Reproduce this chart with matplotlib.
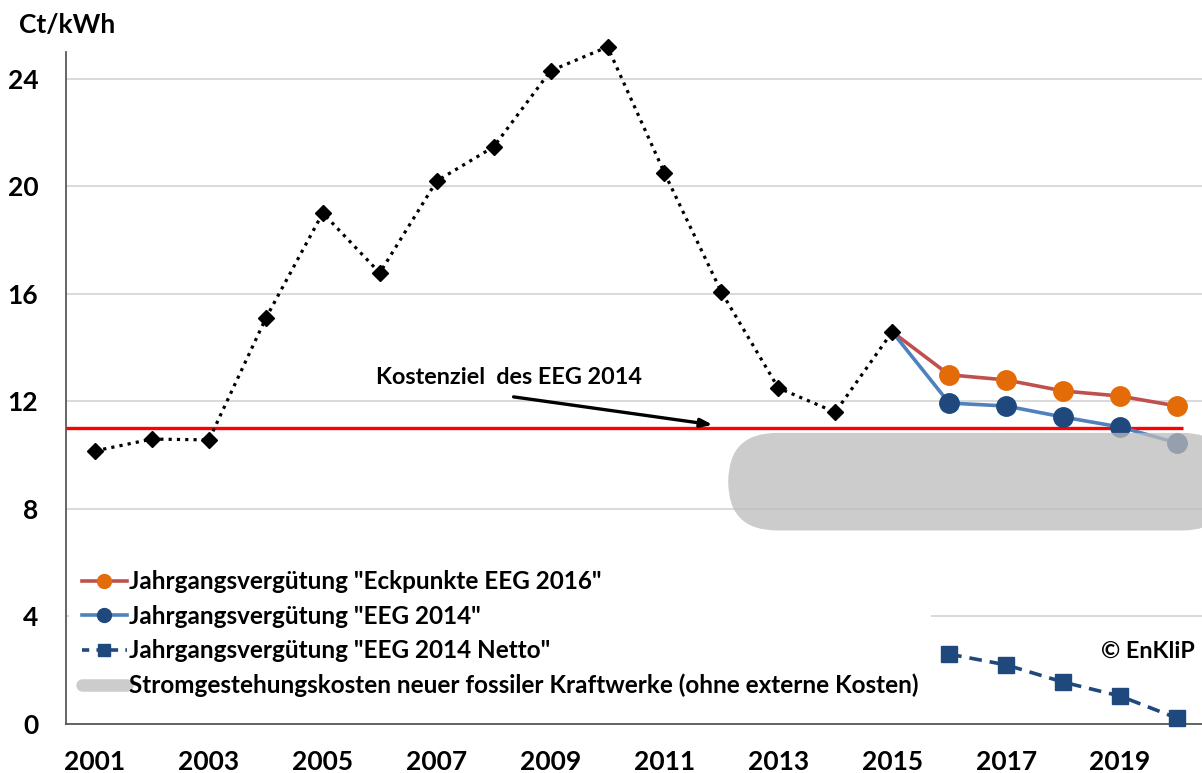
import matplotlib
matplotlib.use('Agg')
import matplotlib.pyplot as plt
from matplotlib.lines import Line2D
from matplotlib.patches import FancyBboxPatch

plt.rcParams['font.family'] = ['Lato', 'DejaVu Sans']

# Jahrgangsverguetung (historic), Ct/kWh
years = [2001, 2002, 2003, 2004, 2005, 2006, 2007, 2008, 2009, 2010,
         2011, 2012, 2013, 2014, 2015]
verguetung = [10.16, 10.6, 10.57, 15.1, 19.01, 16.78, 20.2, 21.47, 24.3, 25.19,
              20.5, 16.07, 12.5, 11.6, 14.59]

# projections, starting from the 2015 value
proj_years = [2015, 2016, 2017, 2018, 2019, 2020]
eckpunkte_2016 = [14.59, 12.99, 12.8, 12.39, 12.2, 11.83]
eeg_2014 = [14.59, 11.94, 11.83, 11.42, 11.05, 10.46]

netto_years = [2016, 2017, 2018, 2019, 2020]
eeg_2014_netto = [2.6, 2.2, 1.56, 1.04, 0.22]

kostenziel = 11.0
fossil_low, fossil_high = 7.2, 10.83
fossil_from, fossil_to = 2012.12, 2020.95

labels = ['Jahrgangsvergütung "Eckpunkte EEG 2016"',
          'Jahrgangsvergütung "EEG 2014"',
          'Jahrgangsvergütung "EEG 2014 Netto"',
          'Stromgestehungskosten neuer fossiler Kraftwerke (ohne externe Kosten)']

fig = plt.figure(figsize=(12.02, 7.73), dpi=100)
ax = fig.add_axes([66 / 1202, 49 / 773, 1136 / 1202, 672 / 773])
ax.set_xlim(2000.49, 2020.44)
ax.set_ylim(0, 25)

ax.set_yticks([0, 4, 8, 12, 16, 20, 24])
ax.set_xticks(list(range(2001, 2020, 2)))
ax.grid(axis='y', color='#d9d9d9', lw=1.4, zorder=0)
ax.set_axisbelow(True)
ax.tick_params(length=0, labelsize=19)
ax.tick_params(axis='y', pad=20)
ax.tick_params(axis='x', pad=19)
for lab in ax.get_xticklabels() + ax.get_yticklabels():
    lab.set_fontweight('bold')
for s in ['top', 'right']:
    ax.spines[s].set_visible(False)
for s in ['left', 'bottom']:
    ax.spines[s].set_color('#595959')
    ax.spines[s].set_linewidth(1.3)

# Kostenziel line
ax.hlines(kostenziel, 2000.49, 2020.1, color='red', lw=2.4, zorder=3)

ax.plot(proj_years, eckpunkte_2016, color='#c0504d', lw=2.6, marker='o', ms=14,
        mfc='#e36c09', mec='#e36c09', markevery=list(range(1, 6)), zorder=4)
ax.plot(proj_years, eeg_2014, color='#4f81bd', lw=2.6, marker='o', ms=14,
        mfc='#1f497d', mec='#1f497d', markevery=list(range(1, 6)), zorder=4)
ax.plot(netto_years, eeg_2014_netto, color='#1f497d', lw=2.6, ls=(0, (3.5, 2.2)),
        marker='s', ms=12, mfc='#1f497d', mec='#1f497d', zorder=4, clip_on=False)
ax.plot(years, verguetung, color='black', lw=2.3, ls=(0, (1, 1.6)),
        marker='D', ms=8, mfc='black', mec='black', zorder=6, clip_on=False)

# fossil cost band (rounded, semi transparent)
sx = ax.transData.transform((1, 0))[0] - ax.transData.transform((0, 0))[0]
sy = ax.transData.transform((0, 1))[1] - ax.transData.transform((0, 0))[1]
h = fossil_high - fossil_low
r = h * sy / sx / 2
band = FancyBboxPatch((fossil_from, fossil_low), fossil_to - fossil_from, h,
                      boxstyle='round,pad=0,rounding_size=%f' % r,
                      mutation_aspect=sx / sy, fc='#bcbcbc', ec='none',
                      alpha=0.76, zorder=5, clip_on=False)
ax.add_patch(band)

ax.text(2008.27, 12.9, 'Kostenziel  des EEG 2014', fontsize=16.8, fontweight='bold',
        ha='center', va='center', zorder=3,
        bbox=dict(fc='white', ec='none', pad=6))
ax.annotate('', xy=(2011.85, 11.13), xytext=(2008.35, 12.17),
            arrowprops=dict(arrowstyle='-|>,head_length=0.7,head_width=0.25',
                            color='black', lw=2.4, shrinkA=0, shrinkB=0), zorder=4)

handles = [
    Line2D([], [], color='#c0504d', lw=2.6, marker='o', ms=10, mfc='#e36c09', mec='#e36c09'),
    Line2D([], [], color='#4f81bd', lw=2.6, marker='o', ms=10, mfc='#1f497d', mec='#1f497d'),
    Line2D([], [], color='#1f497d', lw=2.6, ls=(0, (2, 2)), marker='s', ms=9,
           mfc='#1f497d', mec='#1f497d'),
    Line2D([], [], color='#cccccc', lw=9, solid_capstyle='round'),
]
leg = ax.legend(handles, labels, loc='lower left', bbox_to_anchor=(0.003, 0.022),
                fontsize=17.5, frameon=True, fancybox=False, framealpha=1,
                handlelength=1.85, handletextpad=0.1, labelspacing=0.47,
                borderpad=0.5, borderaxespad=0)
leg.get_frame().set_edgecolor('none')
leg.get_frame().set_facecolor('white')
for t in leg.get_texts():
    t.set_fontweight('bold')

fig.text(19 / 1202, 1 - 25 / 773, 'Ct/kWh', fontsize=19, fontweight='bold',
         ha='left', va='center')
ax.text(2020.31, 2.72, '© EnKliP', fontsize=16.8, fontweight='bold',
        ha='right', va='center')

fig.savefig('out.png', dpi=100)
